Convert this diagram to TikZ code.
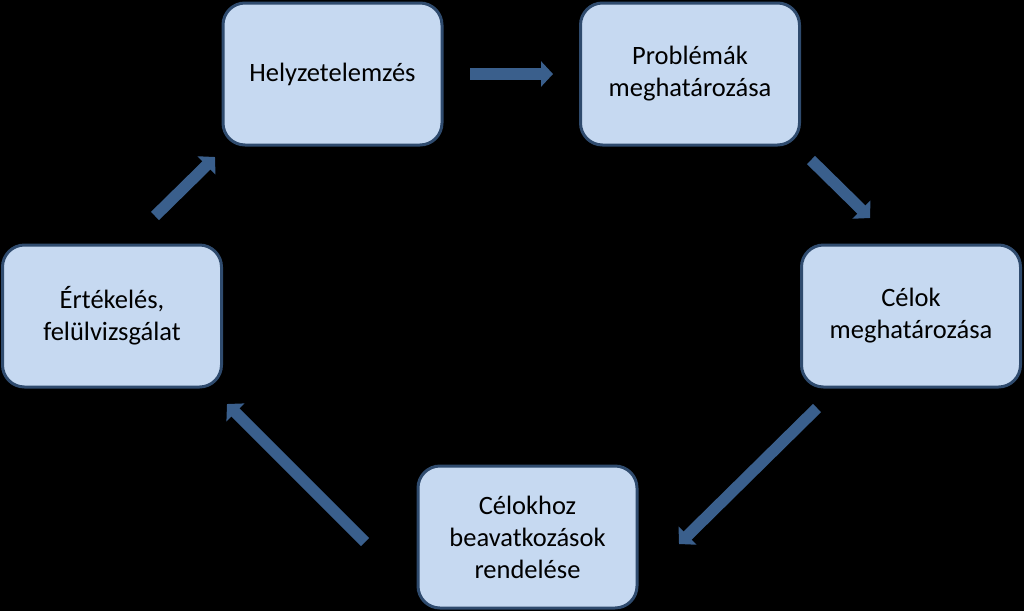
\documentclass[tikz,border=0pt]{standalone}
\usepackage{fontspec}
\setmainfont{Carlito}
\usetikzlibrary{arrows.meta}
\definecolor{boxfill}{HTML}{C6D9F1}
\definecolor{boxline}{HTML}{2F4B6E}
\definecolor{arrowcol}{HTML}{3A5F8C}
\begin{document}
\begin{tikzpicture}[x=1pt,y=-1pt,
  stagebox/.style={draw=boxline, fill=boxfill, line width=3pt, rounded corners=22pt,
    minimum width=219pt, minimum height=142pt, align=center, inner sep=0pt,
    font=\fontsize{26.5}{32}\selectfont, text=black},
  flow/.style={draw=arrowcol, line width=11.5pt, line cap=butt,
    -{Triangle[width=25pt,length=12pt]}}]
\fill[black] (0,0) rectangle (1024,611);
\useasboundingbox (0,0) rectangle (1024,611);
\node[stagebox] (hely) at (332.5,74) {Helyzetelemzés};
\node[stagebox] (prob) at (690,74) {Problémák\\meghatározása};
\node[stagebox] (cel) at (911,316) {Célok\\meghatározása};
\node[stagebox] (beav) at (527.5,537) {Célokhoz\\beavatkozások\\rendelése};
\node[stagebox] (ert) at (112,316) {Értékelés,\\felülvizsgálat};
\coordinate (a1s) at (470,74);  \coordinate (a1e) at (553,74);
\coordinate (a2s) at (811,160); \coordinate (a2e) at (870,218);
\coordinate (a3s) at (817,408); \coordinate (a3e) at (679,544);
\coordinate (a4s) at (365,542); \coordinate (a4e) at (227,404);
\coordinate (a5s) at (155,216); \coordinate (a5e) at (215,157);
\draw[flow] (a1s) -- (a1e);
\draw[flow] (a2s) -- (a2e);
\draw[flow] (a3s) -- (a3e);
\draw[flow] (a4s) -- (a4e);
\draw[flow] (a5s) -- (a5e);
\end{tikzpicture}
\end{document}
